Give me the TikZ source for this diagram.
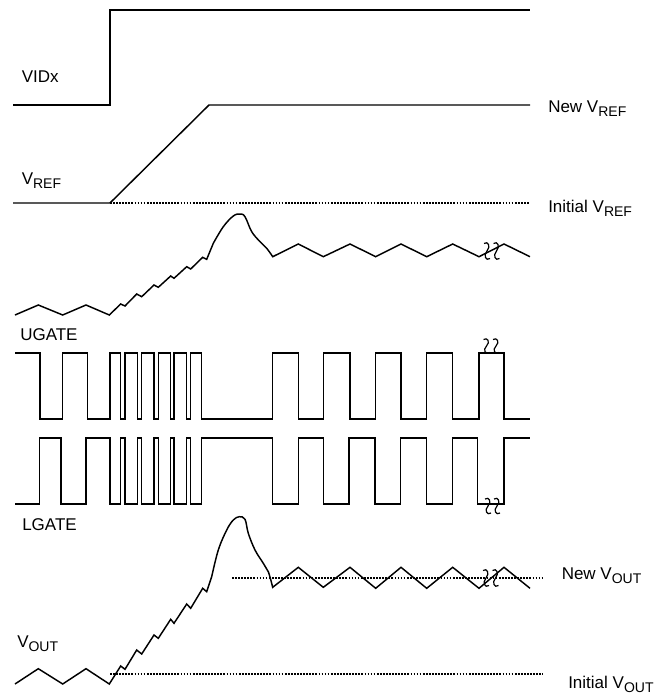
\documentclass[tikz,border=0pt]{standalone}
\usepackage{fontspec}
\setmainfont{Liberation Sans}
\usepackage{tikz}
\usetikzlibrary{calc}

\newcommand{\lowtxt}[1]{\raisebox{-3pt}{\fontsize{10.5}{12}\selectfont #1}}

\begin{document}
\begin{tikzpicture}[
    x=0.75pt, y=-0.75pt,
    wave/.style={draw=black, line width=1.1pt, line join=miter},
    dotline/.style={draw=black, line width=1.5pt, dash pattern=on 1.3pt off 1pt},
    lbl/.style={anchor=base west, inner sep=0pt, font=\fontsize{12.75}{15}\selectfont},
    brk/.pic={\draw[line width=0.9pt] (-3,-5) .. controls (1,-7) and (4,-3) .. (0,0) .. controls (-4,3) and (-1,7) .. (3,5);}
]
\useasboundingbox (0,0) rectangle (671,696);

% VIDx step
\draw[wave] (13,105) -- (110,105) -- (110,10) -- (530,10);
\node[lbl] (vidx) at (21.5,82.7) {VIDx};

% Reference ramp
\draw[wave] (13,203) -- (110,203) -- (209,105) -- (530,105);
\draw[dotline] (110,203) -- (530,203);
\node[lbl] (vref) at (21.5,184) {V\lowtxt{REF}};
\node[lbl] (newref) at (548,112.5) {New V\lowtxt{REF}};
\node[lbl] (initref) at (548,212) {Initial V\lowtxt{REF}};

% Phase ripple
\draw[wave] (15,315) -- (38.3,305) -- (62.7,315) -- (86,305) -- (109.3,315)
    -- (120.7,304) -- (125,306) -- (136.7,294) -- (141.7,296.7) -- (154,285) -- (158.3,287.3)
    -- (170.7,276) -- (174,278.3) -- (186.7,266.7) -- (190.7,269) -- (202.7,257.3) -- (206.7,259.3)
    -- plot[smooth, tension=0.6] coordinates {(213.3,243.3) (223.3,226.7) (233.3,216) (240,214) (245,216.7) (251.7,231.7) (260,241.7) (266.7,248.3) (272.7,256.7)}
    -- (298.3,244) -- (323.3,256.7) -- (350,244) -- (375.7,256.7) -- (401,244)
    -- (426.7,256.7) -- (452.7,244) -- (479,256.7) -- (504,244) -- (530,256.7);
\pic[yscale=1.5] at (487,251) {brk};
\pic[yscale=1.5] at (496.5,251) {brk};

% UGATE
\node[lbl] (ugate) at (20,340.5) {UGATE};
\draw[wave] (15,353) -| (40,419) -| (62.3,353) -| (87.3,419) -| (110,353)
    -| (120.7,419) -| (125,353) -| (137.7,419) -| (141.7,353) -| (154,419) -| (158.3,353)
    -| (170.7,419) -| (174,353) -| (186.7,419) -| (190.7,353) -| (201.7,419) -| (272.7,353)
    -| (298.3,419) -| (323.3,353) -| (350,419) -| (375.7,353) -| (401,419) -| (426.7,353)
    -| (452.7,419) -| (479,353) -| (504,419) -- (530,419);
\pic[yscale=1.3] at (486.5,346) {brk};
\pic[yscale=1.3] at (496,346) {brk};

% LGATE
\draw[wave] (15,504) -| (39.3,438) -| (61,504) -| (86,438) -| (110,504)
    -| (120.7,438) -| (125,504) -| (137.7,438) -| (141.7,504) -| (154,438) -| (158.3,504)
    -| (170.7,438) -| (174,504) -| (186.7,438) -| (190.7,504) -| (201.7,438) -| (272.7,504)
    -| (298.3,438) -| (323.3,504) -| (349,438) -| (375,504) -| (400.7,438) -| (426.7,504)
    -| (452.3,438) -| (477.7,504) -| (504,438) -- (530,438);
\pic[yscale=1.4] at (488,506) {brk};
\pic[yscale=1.4] at (497,506) {brk};
\node[lbl] (lgate) at (22,530) {LGATE};

% Output voltage
\draw[dotline] (232,578.3) -- (543,578.3);
\draw[dotline] (110,674.3) -- (543,674.3);
\draw[wave] (15,684) -- (38.3,668.7) -- (62.7,684) -- (86,668.7) -- (109.3,684)
    -- (120.7,666) -- (125,669.3) -- (136.7,650) -- (141.7,654) -- (154,635) -- (158.3,638.3)
    -- (170.7,619.3) -- (174,623.3) -- (186.7,604) -- (190.7,608.3) -- (202.7,588.3) -- (206.7,591.7)
    -- plot[smooth, tension=0.6] coordinates {(211.7,576.7) (218.3,550) (226.7,530) (233.3,520) (239.3,516.7) (245,519.3) (248.3,533.3) (255,550) (263.3,563.3) (268.3,571.7) (272.7,587.3)}
    -- (298.3,567.3) -- (323.3,587.3) -- (350,567.3) -- (375.7,588.3) -- (401,567.3)
    -- (426.7,588.3) -- (452.7,567.3) -- (479,588.3) -- (504,567.3) -- (530,588.3);
\pic[yscale=1.5] at (486,578) {brk};
\pic[yscale=1.5] at (495.5,578) {brk};
\node[lbl] (vout) at (17,647) {V\lowtxt{OUT}};
\node[lbl] (newout) at (561.5,579) {New V\lowtxt{OUT}};
\node[lbl] (initout) at (568,688) {Initial V\lowtxt{OUT}};

\end{tikzpicture}
\end{document}
